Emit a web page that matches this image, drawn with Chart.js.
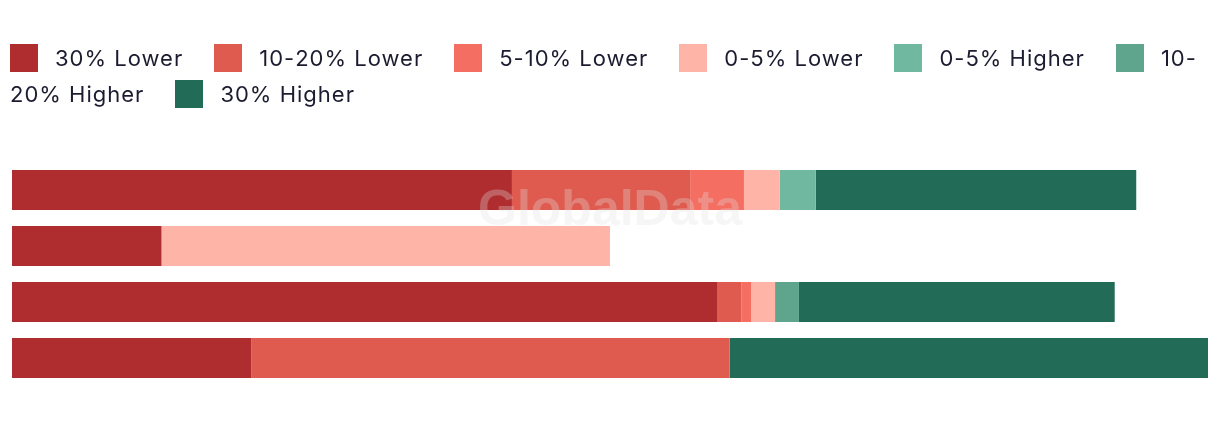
<!DOCTYPE html>
<html>
<head>
<meta charset="utf-8">
<script src="https://cdn.jsdelivr.net/npm/chart.js@4.4.1/dist/chart.umd.min.js"></script>
<style>
  html, body { margin: 0; padding: 0; background: #ffffff; }
  #wrap { position: relative; width: 1220px; height: 422px; overflow: hidden; }
  #legend {
    position: absolute; left: 10px; top: 40px; width: 1200px;
    font-family: "Inter", "Liberation Sans", sans-serif; font-size: 22px;
    letter-spacing: 1.0px; line-height: 36px; color: #1c1c30;
  }
  #legend .item { display: inline; margin-right: 31px; }
  #legend .box {
    display: inline-block; width: 28px; height: 28px; margin-right: 17px;
    vertical-align: -6px;
  }
  #c { position: absolute; left: 0; top: 0; }
</style>
</head>
<body>
<div id="wrap">
  <canvas id="c" width="1220" height="422"></canvas>
  <div id="legend"></div>
</div>
<script>
const categories = ["Group 1", "Group 2", "Group 3", "Group 4"];
const seriesNames = ["30% Lower", "10-20% Lower", "5-10% Lower", "0-5% Lower", "0-5% Higher", "10-20% Higher", "30% Higher"];
const seriesColors = ["#af2c2f", "#e05b4f", "#f46e62", "#feb5a7", "#70b8a0", "#5fa58e", "#216b57"];

const lower30   = [41.8, 12.5, 59.0, 20.0];
const lower1020 = [14.9, 0,    2.0,  40.0];
const lower510  = [4.5,  0,    0.8,  0];
const lower05   = [3.0,  37.5, 2.0,  0];
const higher05  = [3.0,  0,    0,    0];
const higher1020= [0,    0,    2.0,  0];
const higher30  = [26.8, 0,    26.4, 40.0];

const seriesValues = [lower30, lower1020, lower510, lower05, higher05, higher1020, higher30];

// HTML legend (wraps like the reference, allowing a break after hyphens)
const legend = document.getElementById('legend');
seriesNames.forEach((name, i) => {
  const item = document.createElement('span');
  item.className = 'item';
  const box = document.createElement('span');
  box.className = 'box';
  box.style.background = seriesColors[i];
  item.appendChild(box);
  const parts = name.split('-');
  parts.forEach((p, k) => {
    item.appendChild(document.createTextNode(p + (k < parts.length - 1 ? '-' : '')));
    if (k < parts.length - 1) item.appendChild(document.createElement('wbr'));
  });
  legend.appendChild(item);
});

const watermark = {
  id: 'watermark',
  afterDatasetsDraw(chart) {
    const ctx = chart.ctx;
    ctx.save();
    ctx.font = 'bold 50px "Liberation Sans", sans-serif';
    ctx.fillStyle = 'rgba(225,225,225,0.3)';
    ctx.textAlign = 'center';
    ctx.textBaseline = 'middle';
    ctx.fillText('GlobalData', 610, 211);
    ctx.restore();
  }
};

new Chart(document.getElementById('c'), {
  type: 'bar',
  data: {
    labels: categories,
    datasets: seriesNames.map((n, i) => ({
      label: n,
      data: seriesValues[i],
      backgroundColor: seriesColors[i],
      borderWidth: 0,
      barPercentage: 40 / 56,
      categoryPercentage: 1
    }))
  },
  options: {
    indexAxis: 'y',
    responsive: false,
    animation: false,
    layout: { padding: { top: 162, bottom: 36, left: 12, right: 12 } },
    plugins: { legend: { display: false }, tooltip: { enabled: false } },
    scales: {
      x: { stacked: true, display: false, min: 0, max: 100 },
      y: { stacked: true, display: false }
    }
  },
  plugins: [watermark]
});
</script>
</body>
</html>
